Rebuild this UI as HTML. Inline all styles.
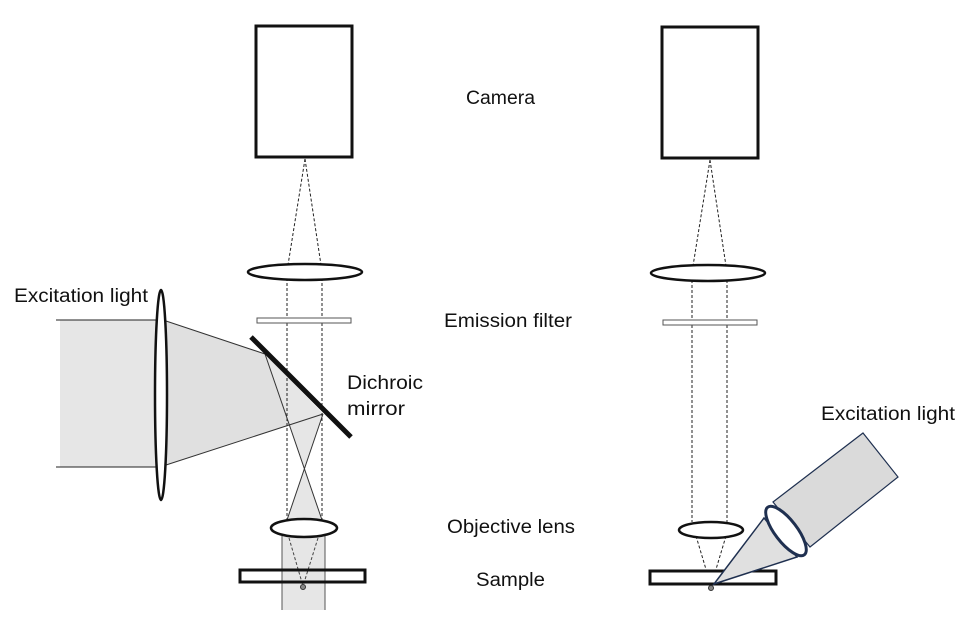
<!DOCTYPE html>
<html><head><meta charset="utf-8"><style>body{margin:0;background:#fff}svg{display:block}text{font-family:"Liberation Sans",sans-serif;font-size:19px;fill:#111}</style></head><body>
<svg width="977" height="622" viewBox="0 0 977 622" xmlns="http://www.w3.org/2000/svg">
<!-- LEFT -->
<rect x="256" y="26" width="96" height="131" fill="#fff" stroke="#111" stroke-width="3"/>
<!-- excitation beam fills -->
<rect x="60" y="320" width="100" height="147" fill="#e6e6e6"/>
<polygon points="166,321 265,354 323,414 166,465" fill="#e0e0e0"/>
<polygon points="265,354 323,414 304,469" fill="#e6e6e6"/>
<polygon points="304,469 322,520 287,520" fill="#e6e6e6"/>
<rect x="282" y="536" width="43" height="74" fill="#e6e6e6"/>
<g stroke="#222" stroke-width="1" stroke-dasharray="3,2" fill="none">
<path d="M305 159 L288 265 M305 159 L321 265"/>
<path d="M287 278 L287 520 M322 278 L322 520"/>
</g>
<ellipse cx="305" cy="272" rx="57" ry="8" fill="#fff" stroke="#111" stroke-width="2.5"/>
<rect x="257" y="318" width="94" height="5" fill="#fff" stroke="#555" stroke-width="1"/>
<path d="M56 320 H160 M56 467 H160" stroke="#222" stroke-width="1"/>
<path d="M166 321 L265 354 M166 465 L323 414" stroke="#333" stroke-width="1"/>
<path d="M265 354 L322 520 M323 414 L287 520" stroke="#333" stroke-width="1"/>
<ellipse cx="161" cy="395" rx="6" ry="105" fill="#fff" stroke="#111" stroke-width="2.5"/>
<line x1="251" y1="337" x2="351" y2="437" stroke="#111" stroke-width="5"/>
<path d="M282 536 V610 M325 536 V610" stroke="#555" stroke-width="1"/>
<path d="M289 538 L303 586 M318 538 L303 586" stroke="#444" stroke-width="1" stroke-dasharray="3,2"/>
<ellipse cx="304" cy="528" rx="33" ry="9" fill="#fff" stroke="#111" stroke-width="2.5"/>
<rect x="240" y="570" width="125" height="12" fill="none" stroke="#111" stroke-width="3"/>
<circle cx="303" cy="587" r="2.5" fill="#888" stroke="#333" stroke-width="1"/>
<!-- RIGHT -->
<rect x="662" y="27" width="96" height="131" fill="#fff" stroke="#111" stroke-width="3"/>
<g stroke="#222" stroke-width="1" stroke-dasharray="3,2" fill="none">
<path d="M710 160 L693 266 M710 160 L726 266"/>
<path d="M692 280 L692 522 M727 280 L727 522"/>
<path d="M696 536 L711 586 M726 536 L711 586"/>
</g>
<ellipse cx="708" cy="273" rx="57" ry="8" fill="#fff" stroke="#111" stroke-width="2.5"/>
<rect x="663" y="320" width="94" height="5" fill="#fff" stroke="#555" stroke-width="1"/>
<ellipse cx="711" cy="530" rx="32" ry="8" fill="#fff" stroke="#111" stroke-width="2.5"/>
<rect x="650" y="571" width="126" height="13" fill="#fff" stroke="#111" stroke-width="3"/>
<circle cx="711" cy="588" r="2.5" fill="#888" stroke="#333" stroke-width="1"/>
<polygon points="773,502 863,433 898,477 810,547" fill="#dadada" stroke="#1f3050" stroke-width="1.2"/>
<polygon points="714,584 764,518 797,557" fill="#e0e0e0" stroke="#1f3050" stroke-width="1.5"/>
<ellipse cx="786" cy="531" rx="30" ry="11" transform="rotate(52.5 786 531)" fill="#fff" stroke="#1f3050" stroke-width="3"/>
<!-- labels -->
<text x="466" y="104" textLength="69" lengthAdjust="spacingAndGlyphs">Camera</text>
<text x="444" y="327" textLength="128" lengthAdjust="spacingAndGlyphs">Emission filter</text>
<text x="347" y="389" textLength="76" lengthAdjust="spacingAndGlyphs">Dichroic</text>
<text x="347" y="415" textLength="58" lengthAdjust="spacingAndGlyphs">mirror</text>
<text x="447" y="533" textLength="128" lengthAdjust="spacingAndGlyphs">Objective lens</text>
<text x="476" y="586" textLength="69" lengthAdjust="spacingAndGlyphs">Sample</text>
<text x="14" y="302" textLength="134" lengthAdjust="spacingAndGlyphs">Excitation light</text>
<text x="821" y="420" textLength="134" lengthAdjust="spacingAndGlyphs">Excitation light</text>
</svg>
</body></html>
